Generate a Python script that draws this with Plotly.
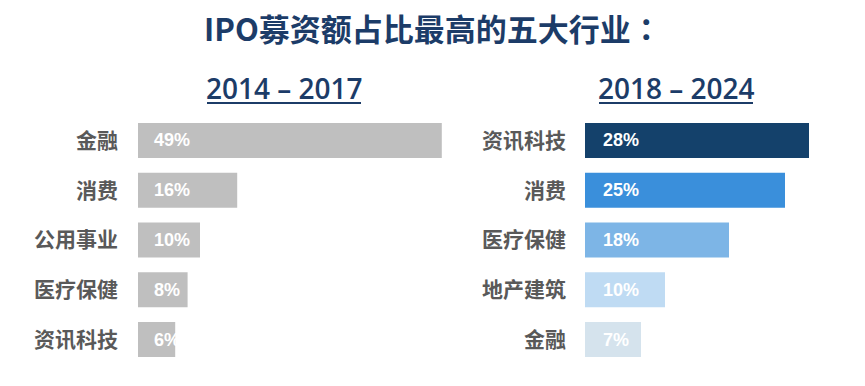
import plotly.graph_objects as go
from plotly.subplots import make_subplots

title_text = "IPO募资额占比最高的五大行业："
period_left = "2014 – 2017"
period_right = "2018 – 2024"

cats_left = ["金融", "消费", "公用事业", "医疗保健", "资讯科技"]
vals_left = [49, 16, 10, 8, 6]

cats_right = ["资讯科技", "消费", "医疗保健", "地产建筑", "金融"]
vals_right = [28, 25, 18, 10, 7]

colors_left = ["#bfbfbf"] * 5
colors_right = ["#14416b", "#3a8fdb", "#7db5e6", "#bfdbf3", "#d5e3ed"]

W, H = 865, 386
NAVY = "#1c3c68"
CJK = "Noto Sans CJK SC, Noto Sans, sans-serif"

fig = make_subplots(rows=1, cols=2)

fig.add_trace(go.Bar(x=vals_left, y=cats_left, orientation="h",
                     marker=dict(color=colors_left, line=dict(width=0)),
                     width=0.7, hoverinfo="skip"), row=1, col=1)
fig.add_trace(go.Bar(x=vals_right, y=cats_right, orientation="h",
                     marker=dict(color=colors_right, line=dict(width=0)),
                     width=0.7, hoverinfo="skip"), row=1, col=2)

y0 = (H - 364.4) / H
y1 = (H - 115.6) / H

tick_font = dict(family=CJK, size=21, color="#595959", weight="bold")

fig.update_layout(
    width=W, height=H,
    margin=dict(l=0, r=0, t=0, b=0),
    paper_bgcolor="white", plot_bgcolor="white",
    showlegend=False,
    xaxis=dict(domain=[138 / W, (138 + 50 * 6.2) / W], range=[0, 50],
               visible=False, fixedrange=True),
    xaxis2=dict(domain=[585 / W, (585 + 30 * 8) / W], range=[0, 30],
                visible=False, fixedrange=True),
    yaxis=dict(domain=[y0, y1], autorange="reversed", showgrid=False,
               showline=False, zeroline=False, ticks="",
               ticklabelstandoff=19, tickfont=tick_font),
    yaxis2=dict(domain=[y0, y1], autorange="reversed", showgrid=False,
                showline=False, zeroline=False, ticks="",
                ticklabelstandoff=18, tickfont=tick_font),
)

bar_font = dict(family="Liberation Sans, Arial, sans-serif",
                size=18, color="white", weight="bold")
annotations = []
for c, v in zip(cats_left, vals_left):
    annotations.append(dict(x=0, y=c, xref="x", yref="y", text=f"{v}%",
                            showarrow=False, xanchor="left", xshift=14,
                            font=bar_font))
for c, v in zip(cats_right, vals_right):
    annotations.append(dict(x=0, y=c, xref="x2", yref="y2", text=f"{v}%",
                            showarrow=False, xanchor="left", xshift=16,
                            font=bar_font))

annotations.append(dict(x=433 / W, y=1 - 27 / H, xref="paper", yref="paper",
                        text=title_text, showarrow=False, xanchor="center",
                        yanchor="middle",
                        font=dict(family="Noto Sans CJK TC, Noto Sans CJK SC, sans-serif",
                                  size=31, color=NAVY, weight="bold")))
sub_font = dict(family="Open Sans, sans-serif", size=28, color=NAVY, weight=600)
annotations.append(dict(x=284 / W, y=1 - 88 / H, xref="paper", yref="paper",
                        text=period_left, showarrow=False, xanchor="center",
                        yanchor="middle", font=sub_font))
annotations.append(dict(x=676 / W, y=1 - 88 / H, xref="paper", yref="paper",
                        text=period_right, showarrow=False, xanchor="center",
                        yanchor="middle", font=sub_font))
fig.update_layout(annotations=annotations)

shapes = [
    dict(type="line", xref="paper", yref="paper",
         x0=207 / W, x1=361 / W, y0=1 - 103 / H, y1=1 - 103 / H,
         line=dict(color=NAVY, width=2)),
    dict(type="line", xref="paper", yref="paper",
         x0=599 / W, x1=753 / W, y0=1 - 103 / H, y1=1 - 103 / H,
         line=dict(color=NAVY, width=2)),
]
fig.update_layout(shapes=shapes)

fig.write_html("out.html", config={"displayModeBar": False},
               post_script="document.body.style.margin='0';")
